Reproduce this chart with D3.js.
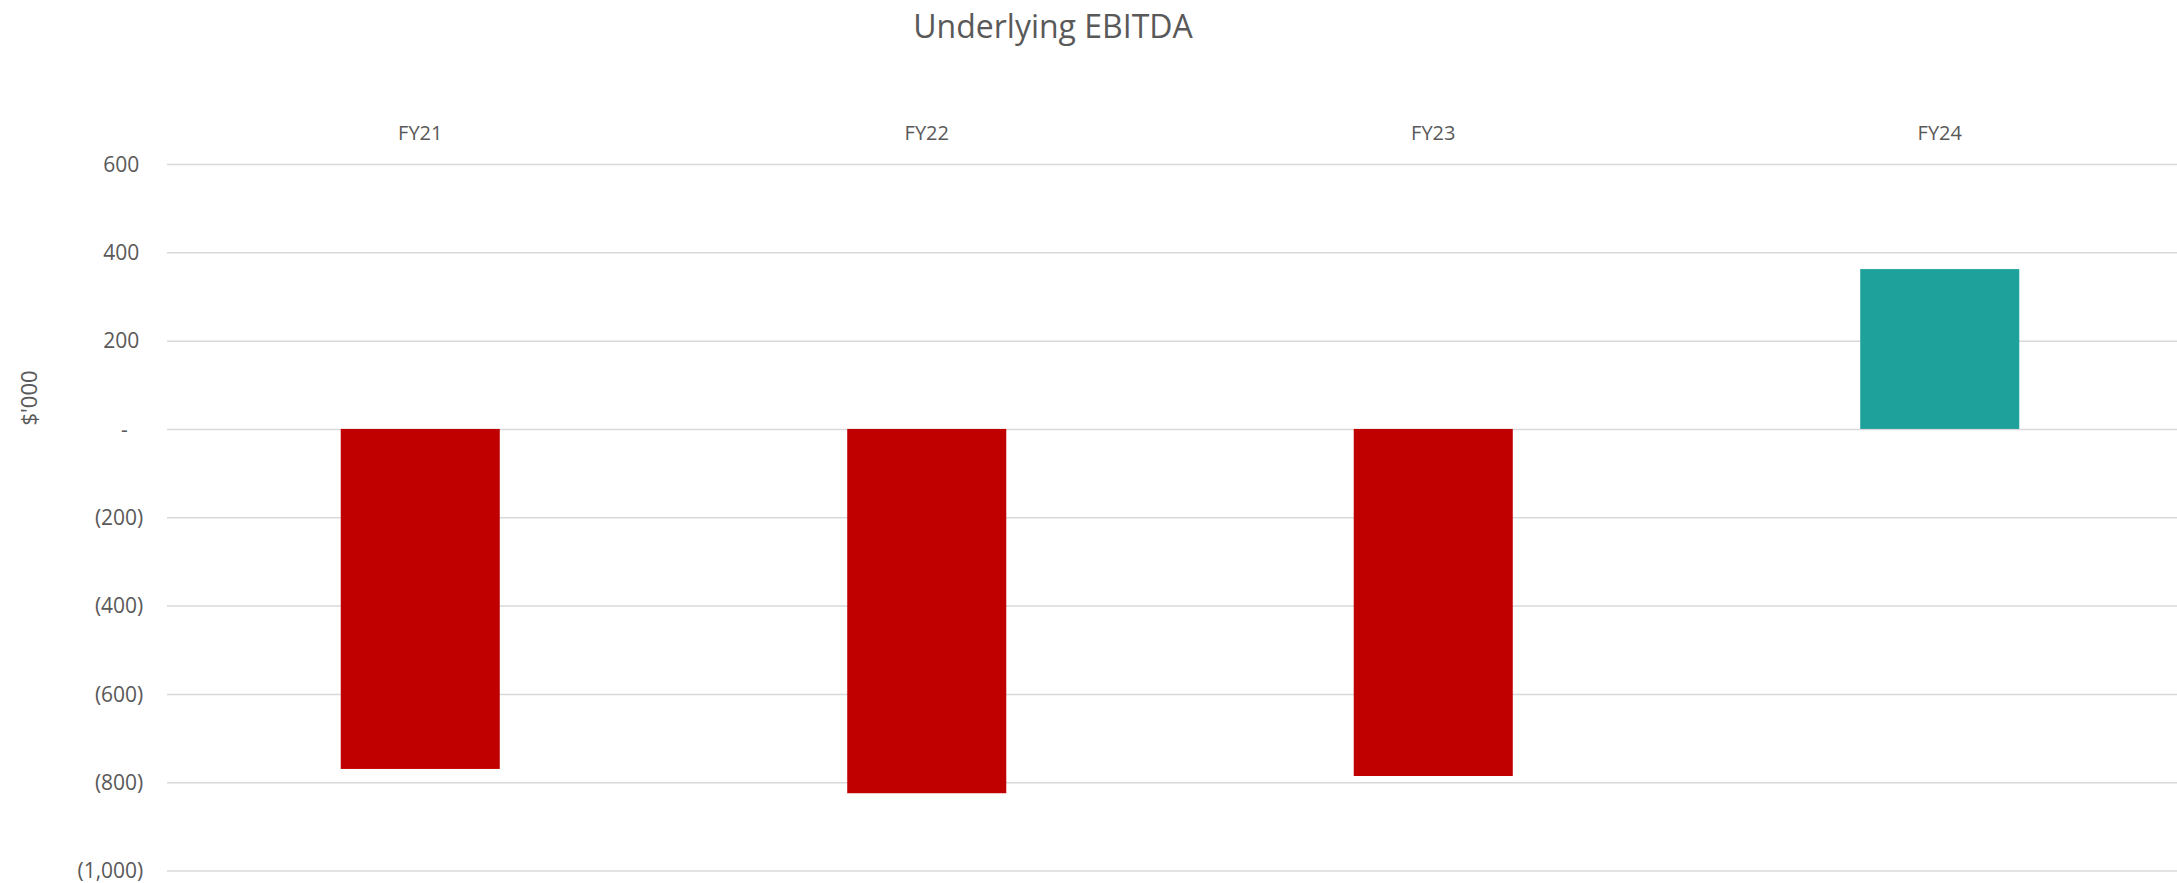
<!DOCTYPE html>
<html>
<head>
<meta charset="utf-8">
<script src="https://cdn.jsdelivr.net/npm/d3@7/dist/d3.min.js"></script>
<style>
  html, body { margin: 0; padding: 0; background: #ffffff; }
  svg { display: block; font-family: "Open Sans", "Noto Sans", sans-serif; }
</style>
</head>
<body>
<svg id="chart" width="2177" height="883"></svg>
<script>
// Underlying EBITDA by financial year, $'000
const categories = ["FY21", "FY22", "FY23", "FY24"];
const ebitda = [-770, -825, -786, 362];
const yTicks = [600, 400, 200, 0, -200, -400, -600, -800, -1000];

const W = 2177, H = 883;
const plot = { left: 167, right: 2193, top: 164, bottom: 870.5 };
const textColor = "#595959";
const fontStack = "'Open Sans', 'Noto Sans', sans-serif";

const svg = d3.select("#chart");

const x = d3.scaleBand()
  .domain(categories)
  .range([plot.left, plot.right])
  .paddingInner(0.686)
  .paddingOuter(0.343);

const y = d3.scaleLinear()
  .domain([-1000, 600])
  .range([plot.bottom, plot.top]);

// Accounting style labels: 600, -, (200)
const fmt = d3.format(",");
const tickLabel = v => v === 0 ? "-" : (v < 0 ? "(" + fmt(-v) + ")" : fmt(v));

// Gridlines and value labels
const yAxis = svg.append("g")
  .attr("transform", `translate(${plot.left},0)`)
  .call(d3.axisLeft(y).tickValues(yTicks).tickFormat(tickLabel)
    .tickSize(-(W - plot.left)).tickPadding(0))
  .attr("font-family", fontStack)
  .attr("font-size", 21);
yAxis.select(".domain").remove();
yAxis.selectAll(".tick line")
  .attr("stroke", "#d9d9d9")
  .attr("stroke-width", 1.5);
yAxis.selectAll(".tick text")
  .attr("fill", textColor)
  .attr("text-anchor", "end")
  .attr("x", d => d === 0 ? -39.3 : (d < 0 ? -23.7 : -27.7))
  .attr("dy", "0.35em");

// Bars
svg.append("g")
  .selectAll("rect")
  .data(categories.map((c, i) => ({ c, v: ebitda[i] })))
  .join("rect")
  .attr("x", d => x(d.c))
  .attr("width", x.bandwidth())
  .attr("y", d => y(Math.max(0, d.v)))
  .attr("height", d => Math.abs(y(d.v) - y(0)))
  .attr("fill", d => d.v < 0 ? "#C00000" : "#1EA19A");

// Category labels along the top
const xAxis = svg.append("g")
  .attr("transform", "translate(0,140)")
  .call(d3.axisTop(x).tickSize(0).tickPadding(0))
  .attr("font-family", fontStack)
  .attr("font-size", 20);
xAxis.select(".domain").remove();
xAxis.selectAll(".tick text")
  .attr("fill", textColor)
  .attr("y", 0)
  .attr("dy", 0);

// Title
svg.append("text")
  .attr("x", 1053)
  .attr("y", 38)
  .attr("text-anchor", "middle")
  .attr("fill", textColor)
  .attr("font-size", 32)
  .text("Underlying EBITDA");

// Axis title
svg.append("text")
  .attr("transform", "translate(37,398) rotate(-90)")
  .attr("text-anchor", "middle")
  .attr("fill", textColor)
  .attr("font-size", 22)
  .text("$'000");
</script>
</body>
</html>
